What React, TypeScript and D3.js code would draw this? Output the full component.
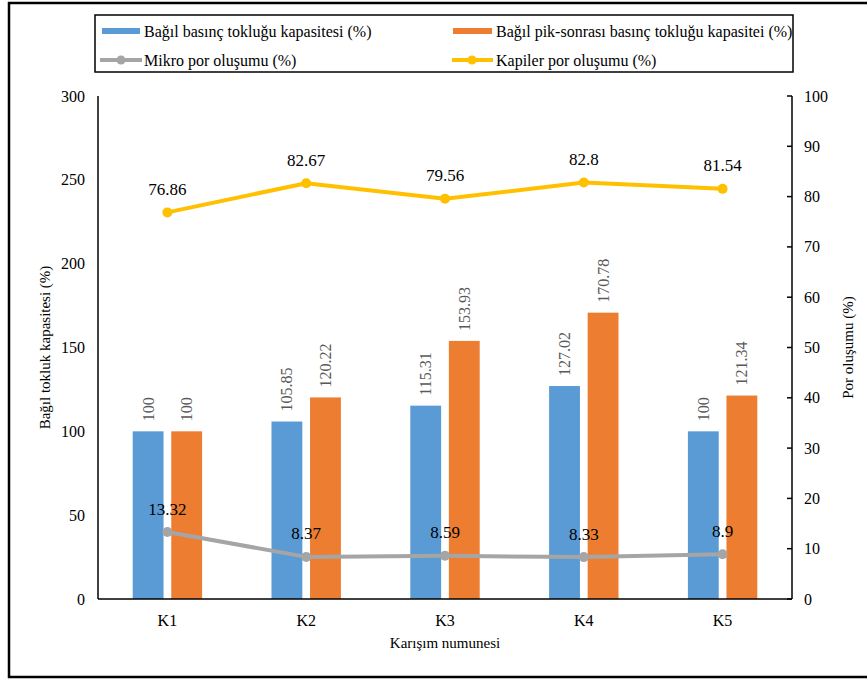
import React from "react";
import * as d3 from "d3";

const categories = ["K1", "K2", "K3", "K4", "K5"];
const pressureToughness = [100, 105.85, 115.31, 127.02, 100];
const postPeakToughness = [100, 120.22, 153.93, 170.78, 121.34];
const microPores = [13.32, 8.37, 8.59, 8.33, 8.9];
const capillaryPores = [76.86, 82.67, 79.56, 82.8, 81.54];
const leftTicks = [0, 50, 100, 150, 200, 250, 300];
const rightTicks = [0, 10, 20, 30, 40, 50, 60, 70, 80, 90, 100];

const W = 867;
const H = 680;
const plot = { left: 98, right: 792, top: 96, bottom: 599 };
const FONT = '"Liberation Serif", "DejaVu Serif", serif';

const BLUE = "#5B9BD5";
const ORANGE = "#ED7D31";
const GRAY = "#A5A5A5";
const YELLOW = "#FFC000";

export default function App() {
  const x0 = d3
    .scaleBand<string>()
    .domain(categories)
    .range([plot.left, plot.right])
    .paddingInner(0.5)
    .paddingOuter(0.25);
  const x1 = d3
    .scaleBand<string>()
    .domain(["a", "b"])
    .range([0, x0.bandwidth()])
    .paddingInner(0.2);
  const yL = d3.scaleLinear().domain([0, 300]).range([plot.bottom, plot.top]);
  const yR = d3.scaleLinear().domain([0, 100]).range([plot.bottom, plot.top]);
  const cx = (c: string) => (x0(c) ?? 0) + x0.bandwidth() / 2;

  const line = d3
    .line<number>()
    .x((_, i) => cx(categories[i]))
    .y((d) => yR(d));

  const barSeries = [
    { key: "a", values: pressureToughness, color: BLUE },
    { key: "b", values: postPeakToughness, color: ORANGE },
  ];
  const lineSeries = [
    { values: microPores, color: GRAY },
    { values: capillaryPores, color: YELLOW },
  ];

  const midY = (plot.top + plot.bottom) / 2;

  return (
    <svg
      width={W}
      height={H}
      style={{ position: "absolute", left: 0, top: 0, background: "#fff", fontFamily: FONT }}
    >
      {/* outer frame */}
      <rect x={9} y={3} width={W + 10} height={674} fill="#fff" stroke="#000" strokeWidth={2.5} />

      {/* legend */}
      <rect x={95} y={15} width={698} height={57} fill="#fff" stroke="#000" strokeWidth={1.5} />
      <g fontSize={16} fill="#000">
        <rect x={102} y={28} width={38} height={6} fill={BLUE} />
        <text x={144} y={31} dominantBaseline="central">Bağıl basınç tokluğu kapasitesi (%)</text>
        <rect x={453} y={28} width={39} height={6} fill={ORANGE} />
        <text x={496} y={31} dominantBaseline="central">Bağıl pik-sonrası basınç tokluğu kapasitei (%)</text>
        <line x1={100} x2={142} y1={60} y2={60} stroke={GRAY} strokeWidth={4} />
        <circle cx={121} cy={60} r={4.5} fill={GRAY} />
        <text x={144} y={60} dominantBaseline="central">Mikro por oluşumu (%)</text>
        <line x1={452} x2={493} y1={60} y2={60} stroke={YELLOW} strokeWidth={4} />
        <circle cx={472} cy={60} r={4.5} fill={YELLOW} />
        <text x={496} y={60} dominantBaseline="central">Kapiler por oluşumu (%)</text>
      </g>

      {/* bars */}
      {barSeries.map((s) =>
        s.values.map((v, i) => {
          const c = categories[i];
          const bx = (x0(c) ?? 0) + (x1(s.key) ?? 0);
          const bw = x1.bandwidth();
          const top = yL(v);
          return (
            <g key={s.key + c}>
              <rect x={bx} y={top} width={bw} height={plot.bottom - top} fill={s.color} />
              <text
                transform={`translate(${bx + bw / 2},${top - 10}) rotate(-90)`}
                fontSize={16}
                fill="#595959"
                dominantBaseline="central"
              >
                {String(v)}
              </text>
            </g>
          );
        })
      )}

      {/* left axis */}
      <line x1={plot.left} x2={plot.left} y1={plot.top} y2={plot.bottom} stroke="#000" strokeWidth={1.5} />
      {leftTicks.map((t) => (
        <text key={t} x={85} y={yL(t)} textAnchor="end" dominantBaseline="central" fontSize={16} fill="#000">
          {t}
        </text>
      ))}

      {/* right axis */}
      <line x1={plot.right} x2={plot.right} y1={plot.top} y2={plot.bottom} stroke="#000" strokeWidth={1.5} />
      {rightTicks.map((t) => (
        <g key={t}>
          <line x1={plot.right - 5} x2={plot.right} y1={yR(t)} y2={yR(t)} stroke="#000" strokeWidth={1.5} />
          <text x={804} y={yR(t)} dominantBaseline="central" fontSize={16} fill="#000">
            {t}
          </text>
        </g>
      ))}

      {/* x axis */}
      <line x1={plot.left} x2={plot.right} y1={plot.bottom} y2={plot.bottom} stroke="#000" strokeWidth={1.5} />
      {categories.map((c) => (
        <text key={c} x={cx(c)} y={620} textAnchor="middle" dominantBaseline="central" fontSize={16} fill="#000">
          {c}
        </text>
      ))}

      {/* lines */}
      {lineSeries.map((s, si) => (
        <g key={si}>
          <path d={line(s.values) ?? ""} fill="none" stroke={s.color} strokeWidth={4} strokeLinejoin="round" />
          {s.values.map((v, i) => (
            <circle key={i} cx={cx(categories[i])} cy={yR(v)} r={5} fill={s.color} />
          ))}
          {s.values.map((v, i) => (
            <text
              key={"l" + i}
              x={cx(categories[i])}
              y={yR(v) - 23}
              textAnchor="middle"
              dominantBaseline="central"
              fontSize={17}
              fill="#000"
            >
              {String(v)}
            </text>
          ))}
        </g>
      ))}

      {/* axis titles */}
      <text
        transform={`translate(45,${midY}) rotate(-90)`}
        textAnchor="middle"
        dominantBaseline="central"
        fontSize={15}
        fill="#000"
      >
        Bağıl  tokluk kapasitesi (%)
      </text>
      <text
        transform={`translate(848,${midY}) rotate(-90)`}
        textAnchor="middle"
        dominantBaseline="central"
        fontSize={15}
        fill="#000"
      >
        Por oluşumu (%)
      </text>
      <text x={(plot.left + plot.right) / 2} y={643} textAnchor="middle" dominantBaseline="central" fontSize={15} fill="#000">
        Karışım numunesi
      </text>
    </svg>
  );
}
